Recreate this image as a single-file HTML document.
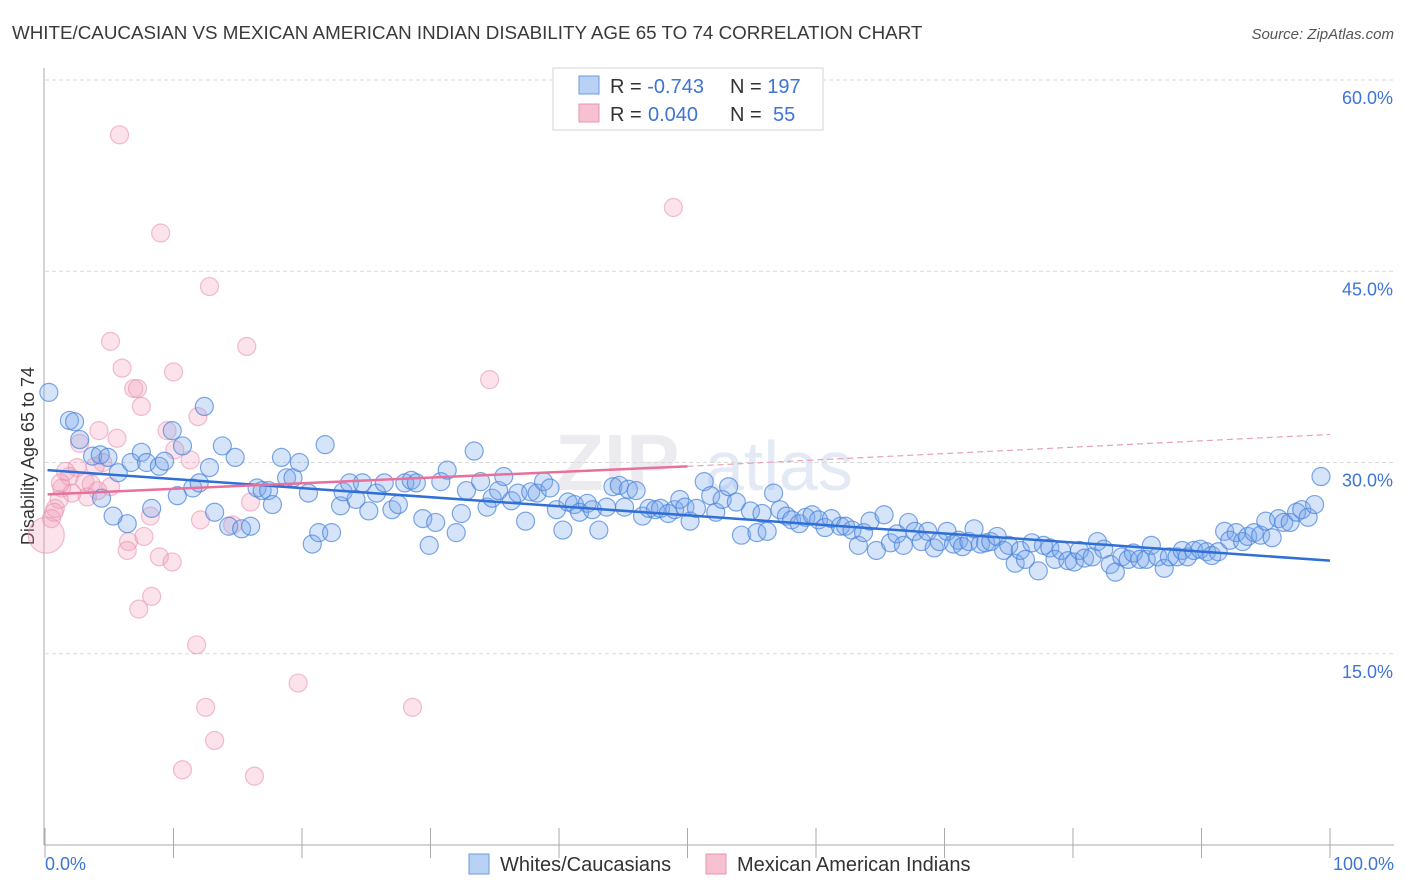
<!DOCTYPE html>
<html><head><meta charset="utf-8"><style>
body{margin:0;background:#fff;font-family:"Liberation Sans",sans-serif;}
#wrap{position:relative;width:1406px;height:892px;overflow:hidden}
svg text{font-family:"Liberation Sans",sans-serif}
</style></head><body><div id="wrap">
<svg id="chart" width="1406" height="892">
<text x="12" y="39" font-size="18.8" fill="#3a3a3a">WHITE/CAUCASIAN VS MEXICAN AMERICAN INDIAN DISABILITY AGE 65 TO 74 CORRELATION CHART</text>
<text x="1394" y="39" font-size="15" fill="#555" font-style="italic" text-anchor="end">Source: ZipAtlas.com</text>
<text x="0" y="0" transform="translate(34,456) rotate(-90)" font-size="18" fill="#333" text-anchor="middle">Disability Age 65 to 74</text>
<text x="555" y="490" font-size="80" fill="#ececf0" font-family="Liberation Serif" font-weight="bold">ZIP</text>
<text x="705" y="490" font-size="70" fill="#e3eaf5">atlas</text>
<g id="grid"></g><g id="axes"></g><g id="pink"></g><g id="blue"></g><g id="lines"></g>
<g>
<rect x="553" y="68" width="270" height="62" fill="#fff" stroke="#d6d6d6"/>
<rect x="579" y="76" width="20" height="18" fill="#b8d1f5" stroke="#6a9be0"/>
<rect x="579" y="104" width="20" height="18" fill="#f7c1d1" stroke="#e894ae"/>
<text x="610" y="93" font-size="20" fill="#333">R = <tspan fill="#3d74d6">-0.743</tspan><tspan x="730">N = </tspan><tspan fill="#3d74d6">197</tspan></text>
<text x="610" y="121" font-size="20" fill="#333">R = <tspan x="648" fill="#3d74d6">0.040</tspan><tspan x="730">N = </tspan><tspan x="773" fill="#3d74d6">55</tspan></text>
</g>
<g>
<rect x="469" y="854" width="20" height="20" fill="#b8d1f5" stroke="#6a9be0"/>
<text x="500" y="871" font-size="20" fill="#333">Whites/Caucasians</text>
<rect x="706" y="854" width="20" height="20" fill="#f7c1d1" stroke="#e894ae"/>
<text x="737" y="871" font-size="20" fill="#333">Mexican American Indians</text>
</g>
</svg></div>
<script>
const yTicks=[15,30,45,60];
const yTickLabels=["15.0%","30.0%","45.0%","60.0%"];
const xTickLabels=["0.0%","100.0%"];
const blueX=[0.3,1.9,2.3,2.7,3.7,4.3,4.9,5.7,4.4,6.4,5.3,6.7,7.5,7.9,8.3,8.9,9.3,9.9,10.3,10.7,11.5,12.0,12.4,12.8,13.2,13.8,14.3,14.8,15.3,16.0,16.5,16.9,17.4,17.7,18.4,18.8,19.3,19.8,20.5,20.8,21.3,21.8,22.3,23.0,23.2,23.7,24.2,24.7,25.2,25.8,26.4,27.0,27.5,28.0,28.5,28.9,29.4,29.9,30.4,30.8,31.3,32.0,32.4,32.8,33.4,33.9,34.4,34.8,35.3,35.7,36.3,36.8,37.4,37.8,38.3,38.8,39.3,39.8,40.3,40.7,41.2,41.6,42.2,42.6,43.1,43.7,44.2,44.7,45.1,45.4,46.0,46.5,47.0,47.5,47.9,48.5,49.0,49.4,49.8,50.2,50.7,51.3,51.8,52.2,52.7,53.2,53.8,54.2,54.9,55.4,55.8,56.2,56.7,57.2,57.7,58.1,58.7,59.2,59.7,60.2,60.7,61.2,61.9,62.3,62.8,63.3,63.7,64.2,64.7,65.3,65.8,66.3,66.8,67.2,67.7,68.2,68.7,69.2,69.6,70.2,70.7,71.1,71.4,71.9,72.3,72.8,73.2,73.6,74.1,74.6,75.0,75.5,75.9,76.3,76.8,77.3,77.7,78.2,78.6,79.1,79.6,80.1,80.5,80.9,81.5,81.9,82.4,82.9,83.3,83.8,84.3,84.7,85.2,85.7,86.1,86.6,87.1,87.5,88.1,88.5,88.9,89.4,89.9,90.4,90.8,91.3,91.8,92.2,92.7,93.2,93.6,94.1,94.6,95.0,95.5,96.0,96.4,96.9,97.4,97.8,98.3,98.8,99.3];
const blueY=[35.5,33.3,33.2,31.8,30.5,30.6,30.4,29.2,27.2,25.2,25.8,30.0,30.8,30.0,26.4,29.7,30.1,32.5,27.4,31.3,28.0,28.4,34.4,29.6,26.1,31.3,25.0,30.4,24.8,25.0,28.0,27.8,27.8,26.7,30.4,28.8,28.8,30.0,27.6,23.6,24.5,31.4,24.5,26.6,27.7,28.4,27.1,28.4,26.2,27.6,28.4,26.3,26.7,28.4,28.6,28.4,25.6,23.5,25.3,28.5,29.4,24.5,26.0,27.8,30.9,28.5,26.5,27.2,27.8,28.9,27.0,27.6,25.4,27.7,27.6,28.5,28.0,26.3,24.7,26.9,26.7,26.1,26.8,26.3,24.7,26.5,28.1,28.2,26.5,27.9,27.8,25.8,26.4,26.3,26.4,26.0,26.3,27.1,26.5,25.4,26.4,28.5,27.4,26.1,27.1,28.1,26.9,24.3,26.2,24.5,26.0,24.6,27.6,26.3,25.8,25.5,25.2,25.7,25.9,25.5,24.9,25.6,25.0,25.0,24.7,23.5,24.5,25.4,23.1,25.9,23.7,24.4,23.5,25.3,24.6,23.8,24.6,23.3,23.8,24.6,23.6,23.9,23.4,23.8,24.8,23.6,23.7,23.8,24.2,23.1,23.5,22.1,23.1,22.4,23.7,21.5,23.5,23.3,22.4,23.1,22.3,22.2,23.1,22.5,22.6,23.8,23.2,22.0,21.4,22.6,22.4,22.9,22.4,22.4,23.5,22.6,21.7,22.6,22.6,23.1,22.6,23.1,23.2,23.0,22.7,23.0,24.6,23.9,24.5,23.8,24.2,24.5,24.3,25.4,24.1,25.6,25.3,25.3,26.1,26.3,25.7,26.7,28.9];
const pinkX=[5.8,9.0,12.8,48.9,5.1,15.7,6.0,10.0,6.9,7.2,7.5,34.6,11.9,4.2,5.6,2.7,9.5,10.1,11.3,4.5,2.5,3.9,1.9,1.3,3.1,5.1,2.1,4.1,3.6,1.1,3.3,0.8,8.2,12.1,14.6,0.5,16.0,6.5,7.7,6.4,8.9,9.9,8.3,7.3,11.8,19.7,28.6,12.5,13.2,10.7,16.3,0.7,1.2,1.6,0.1];
const pinkY=[55.7,48.0,43.8,50.0,39.5,39.1,37.4,37.1,35.8,35.8,34.4,36.5,33.6,32.5,31.9,31.5,32.5,31.0,30.2,30.0,29.6,29.7,28.9,28.0,28.5,28.1,27.6,27.8,28.3,27.1,27.3,26.4,25.8,25.5,25.1,25.6,26.9,23.8,24.2,23.1,22.6,22.2,19.5,18.5,15.7,12.7,10.8,10.8,8.2,5.9,5.4,26.1,28.4,29.3,24.3];
const pinkR=[9,9,9,9,9,9,9,9,9,9,9,9,9,9,9,9,9,9,9,9,9,9,9,9,9,9,9,9,9,9,9,9,9,9,9,9,9,9,9,9,9,9,9,9,9,9,9,9,9,9,9,9,9,9,18];
const blueFit=[29.4,22.3];
const pinkFit=[27.5,29.7,32.2];

const NS="http://www.w3.org/2000/svg";
const X0=45,X1=1330,Y0=845,PX=12.75;
function sx(v){return X0+(X1-X0)*v/100;}
function sy(v){return Y0-v*PX;}
function mk(tag,attrs,parent){const e=document.createElementNS(NS,tag);for(const k in attrs)e.setAttribute(k,attrs[k]);document.getElementById(parent).appendChild(e);return e;}
yTicks.forEach((t,i)=>{
 const g=mk('line',{x1:45,x2:1394,y1:sy(t),y2:sy(t),stroke:'#d8d8d8','stroke-dasharray':'4,3'},'grid');
 
 
 const l=mk('text',{x:1393,y:sy(t)+24,'font-size':18,fill:'#3d74d6','text-anchor':'end'},'grid');
 l.textContent=yTickLabels[i];
 
 
});
const ya=mk('line',{x1:44,x2:44,y1:68,y2:845,stroke:'#aaa'},'axes');


const xa=mk('line',{x1:44,x2:1394,y1:845,y2:845,stroke:'#aaa'},'axes');


for(let i=0;i<=10;i++){const t=mk('line',{x1:sx(i*10),x2:sx(i*10),y1:828,y2:858,stroke:'#aaa'},'axes');
 
 }
[[0,'start',45],[1,'end',1394]].forEach(([i,a,x])=>{const t=mk('text',{x:x,y:870,'font-size':18,fill:'#3d74d6','text-anchor':a},'axes');t.textContent=xTickLabels[i];
 
 });
pinkX.forEach((v,i)=>{const c=mk('circle',{cx:sx(v),cy:sy(pinkY[i]),r:pinkR[i],fill:'rgba(243,160,188,0.3)',stroke:'rgba(232,140,170,0.55)','stroke-width':1.2},'pink');
 
 });
blueX.forEach((v,i)=>{const c=mk('circle',{cx:sx(v),cy:sy(blueY[i]),r:9,fill:'rgba(120,165,235,0.3)',stroke:'rgba(70,130,220,0.7)','stroke-width':1.2},'blue');
 
 });
const bl=mk('line',{x1:sx(0.2),y1:sy(blueFit[0]),x2:sx(100),y2:sy(blueFit[1]),stroke:'#2f6fd6','stroke-width':2.5},'lines');


const pl=mk('line',{x1:sx(0.2),y1:sy(pinkFit[0]),x2:sx(50),y2:sy(pinkFit[1]),stroke:'#e8709a','stroke-width':2.5},'lines');


const pd=mk('line',{x1:sx(50),y1:sy(pinkFit[1]),x2:sx(100),y2:sy(pinkFit[2]),stroke:'#e8a0b8','stroke-width':1.2,'stroke-dasharray':'6,4'},'lines');


</script></body></html>
